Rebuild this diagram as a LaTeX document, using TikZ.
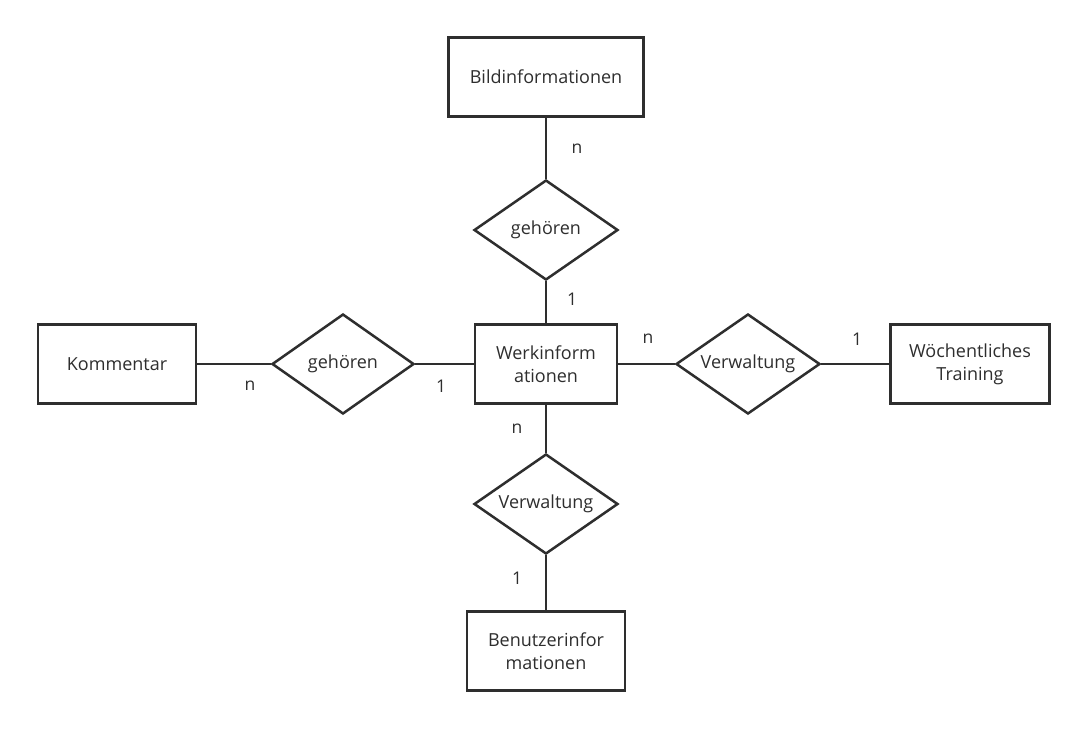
\documentclass[tikz,border=0pt]{standalone}
\usepackage{fontspec}
\setmainfont{Open Sans}
\usetikzlibrary{shapes.geometric}
\definecolor{erline}{HTML}{2E2E2E}

\tikzset{
    entity/.style={draw=erline, line width=2.5pt, rectangle, minimum height=79pt,
        align=center, text=erline, font=\fontsize{18}{23}\selectfont},
    relation/.style={draw=erline, line width=2.5pt, diamond, inner sep=0pt,
        shape aspect=1.5, minimum width=144pt, minimum height=100pt, text=erline,
        font=\fontsize{18}{23}\selectfont},
    card/.style={text=erline, font=\fontsize{17.5}{20}\selectfont, inner sep=0pt},
    link/.style={draw=erline, line width=2.5pt}
}

\begin{document}
\begin{tikzpicture}[x=1pt, y=-1pt]
    \useasboundingbox[fill=white] (0,0) rectangle (1087,729);

    % entities
    \node[entity, minimum width=195pt] (bild) at (546,77) {Bildinformationen};
    \node[entity, minimum width=142pt] (werk) at (546,364) {Werkinform\\ationen};
    \node[entity, minimum width=158pt] (komm) at (117,364) {Kommentar};
    \node[entity, minimum width=159pt] (train) at (970,364) {Wöchentliches\\Training};
    \node[entity, minimum width=158pt] (benutzer) at (546,651) {Benutzerinfor\\mationen};

    % relations
    \node[relation] (gehTop) at (546,230) {gehören};
    \node[relation, minimum width=142pt] (gehLeft) at (343,364) {gehören};
    \node[relation] (verwRight) at (748,364) {Verwaltung};
    \node[relation] (verwBottom) at (546,504) {Verwaltung};

    % connectors
    \draw[link] (bild) -- (gehTop);
    \draw[link] (gehTop) -- (werk);
    \draw[link] (komm) -- (gehLeft);
    \draw[link] (gehLeft) -- (werk);
    \draw[link] (werk) -- (verwRight);
    \draw[link] (verwRight) -- (train);
    \draw[link] (werk) -- (verwBottom);
    \draw[link] (verwBottom) -- (benutzer);

    % cardinalities
    \node[card] (cBild) at (577,149) {n};
    \node[card] (cWerkTop) at (572,299) {1};
    \node[card] (cKomm) at (250,386) {n};
    \node[card] (cWerkLeft) at (441,386) {1};
    \node[card] (cWerkRight) at (648,339) {n};
    \node[card] (cTrain) at (857,339) {1};
    \node[card] (cWerkBottom) at (517,429) {n};
    \node[card] (cBenutzer) at (517,578) {1};
\end{tikzpicture}
\end{document}
